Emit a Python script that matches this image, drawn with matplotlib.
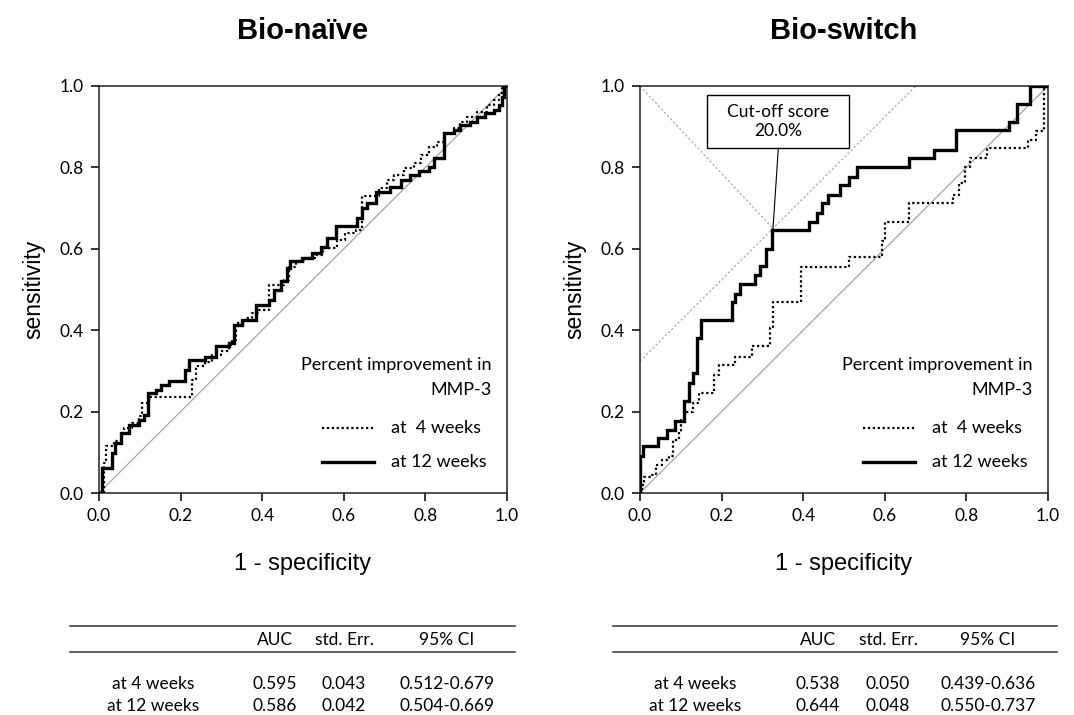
import matplotlib
matplotlib.use("Agg")
import matplotlib.pyplot as plt
from matplotlib.lines import Line2D
from matplotlib.patches import Rectangle

# ---------------- data ----------------
ticks = [0.0, 0.2, 0.4, 0.6, 0.8, 1.0]
tick_labels = ["0.0", "0.2", "0.4", "0.6", "0.8", "1.0"]

# Bio-naive, 12 weeks (solid)
naive12_fpr = [0, 0.008, 0.031, 0.04, 0.053, 0.073, 0.098, 0.11, 0.121, 0.139, 0.151, 0.171,
               0.212, 0.22, 0.261, 0.286, 0.318, 0.331, 0.351, 0.384, 0.416, 0.429, 0.445,
               0.461, 0.469, 0.498, 0.522, 0.543, 0.56, 0.58, 0.633, 0.645, 0.657, 0.678,
               0.714, 0.739, 0.763, 0.784, 0.808, 0.82, 0.845, 0.869, 0.886, 0.91, 0.927,
               0.947, 0.967, 0.98, 0.988, 0.992, 1.0]
naive12_tpr = [0, 0.061, 0.098, 0.123, 0.147, 0.168, 0.18, 0.192, 0.245, 0.254, 0.266, 0.274,
               0.303, 0.327, 0.335, 0.36, 0.368, 0.413, 0.425, 0.462, 0.475, 0.5, 0.52,
               0.552, 0.569, 0.577, 0.589, 0.605, 0.626, 0.655, 0.675, 0.7, 0.712, 0.74,
               0.753, 0.769, 0.781, 0.79, 0.802, 0.822, 0.884, 0.892, 0.904, 0.912, 0.925,
               0.933, 0.941, 0.953, 0.974, 1.0, 1.0]

# Bio-naive, 4 weeks (dotted)
naive4_fpr = [0, 0.012, 0.016, 0.037, 0.057, 0.061, 0.082, 0.098, 0.106, 0.122, 0.229, 0.237,
              0.261, 0.278, 0.298, 0.318, 0.327, 0.335, 0.359, 0.376, 0.392, 0.416, 0.453,
              0.465, 0.482, 0.506, 0.53, 0.548, 0.584, 0.604, 0.629, 0.645, 0.686, 0.706,
              0.722, 0.747, 0.771, 0.788, 0.808, 0.829, 0.845, 0.869, 0.886, 0.902, 0.927,
              0.951, 0.967, 0.98, 0.988, 0.996, 1.0]
naive4_tpr = [0, 0.074, 0.115, 0.127, 0.147, 0.16, 0.172, 0.188, 0.221, 0.237, 0.278, 0.311,
              0.323, 0.34, 0.348, 0.364, 0.376, 0.417, 0.43, 0.442, 0.45, 0.511, 0.524,
              0.556, 0.569, 0.577, 0.585, 0.601, 0.622, 0.638, 0.646, 0.73, 0.749, 0.769,
              0.781, 0.798, 0.81, 0.83, 0.851, 0.863, 0.884, 0.896, 0.912, 0.925, 0.937,
              0.953, 0.966, 0.978, 0.994, 1.0, 1.0]

# Bio-switch, 12 weeks (solid)
switch12_fpr = [0, 0.0, 0.008, 0.044, 0.065, 0.085, 0.109, 0.119, 0.129, 0.139, 0.149, 0.226,
                0.234, 0.244, 0.282, 0.294, 0.31, 0.323, 0.413, 0.435, 0.447, 0.46, 0.49,
                0.512, 0.533, 0.66, 0.72, 0.774, 0.904, 0.925, 0.955, 1.0]
switch12_tpr = [0, 0.092, 0.115, 0.135, 0.155, 0.176, 0.225, 0.27, 0.295, 0.38, 0.425, 0.47,
                0.49, 0.514, 0.536, 0.558, 0.6, 0.646, 0.667, 0.687, 0.712, 0.732, 0.757,
                0.777, 0.8, 0.822, 0.843, 0.892, 0.912, 0.957, 1.0, 1.0]

# Bio-switch, 4 weeks (dotted)
switch4_fpr = [0, 0.004, 0.01, 0.03, 0.04, 0.055, 0.07, 0.08, 0.095, 0.1, 0.11, 0.13, 0.145,
               0.181, 0.194, 0.234, 0.274, 0.319, 0.327, 0.395, 0.513, 0.594, 0.6, 0.66,
               0.766, 0.782, 0.796, 0.81, 0.851, 0.95, 0.97, 0.99, 1.0]
switch4_tpr = [0, 0.02, 0.04, 0.045, 0.07, 0.08, 0.09, 0.13, 0.15, 0.18, 0.2, 0.22, 0.245,
               0.29, 0.315, 0.335, 0.36, 0.405, 0.47, 0.556, 0.58, 0.62, 0.667, 0.712,
               0.732, 0.761, 0.8, 0.822, 0.847, 0.867, 0.89, 1.0, 1.0]

cutoff_point = (0.326, 0.65)
cutoff_label = "Cut-off score\n20.0%"

titles = ["Bio-naïve", "Bio-switch"]
legend_title = ["Percent improvement in", "MMP-3"]
series_labels = ["at  4 weeks", "at 12 weeks"]

table_header = ["AUC", "std. Err.", "95% CI"]
table_rows = ["at 4 weeks", "at 12 weeks"]
naive_auc = ["0.595", "0.586"]
naive_se = ["0.043", "0.042"]
naive_ci = ["0.512-0.679", "0.504-0.669"]
switch_auc = ["0.538", "0.644"]
switch_se = ["0.050", "0.048"]
switch_ci = ["0.439-0.636", "0.550-0.737"]

# ---------------- figure ----------------
W, H = 1074, 715
fig = plt.figure(figsize=(W / 100, H / 100), dpi=100)
fig.patch.set_facecolor("white")

CAL = ["Lato", "DejaVu Sans"]
ARI = ["Liberation Sans", "DejaVu Sans"]


def px_rect(x0, x1, ytop, ybot):
    return [x0 / W, 1 - ybot / H, (x1 - x0) / W, (ybot - ytop) / H]


axL = fig.add_axes(px_rect(99, 507, 86, 493))
axR = fig.add_axes(px_rect(640, 1048, 86, 493))

datasets = [
    (axL, naive4_fpr, naive4_tpr, naive12_fpr, naive12_tpr),
    (axR, switch4_fpr, switch4_tpr, switch12_fpr, switch12_tpr),
]

for i, (ax, f4, t4, f12, t12) in enumerate(datasets):
    ax.set_xlim(0, 1)
    ax.set_ylim(0, 1)
    ax.plot([0, 1], [0, 1], color="#9a9a9a", lw=0.8, zorder=1)
    ax.step(f4, t4, where="post", color="black", lw=1.6, linestyle=(0, (1, 1.2)), zorder=3)
    ax.step(f12, t12, where="post", color="black", lw=2.4, zorder=4, solid_joinstyle="miter")
    ax.set_xticks(ticks)
    ax.set_yticks(ticks)
    ax.set_xticklabels(tick_labels, fontfamily=CAL, fontsize=12.5)
    ax.set_yticklabels(tick_labels, fontfamily=CAL, fontsize=12.5)
    ax.tick_params(direction="out", length=6, width=1.1, pad=5, colors="black")
    for s in ax.spines.values():
        s.set_linewidth(1.1)
        s.set_color("#222222")
    ax.set_xlabel("1 - specificity", fontfamily=ARI, fontsize=17, labelpad=21)
    ax.set_ylabel("sensitivity", fontfamily=ARI, fontsize=16.5, labelpad=10)
    ax.set_title(titles[i], fontfamily=ARI, fontsize=21, fontweight="bold", pad=34)

    # legend-like annotation
    fs = 13
    ax.text(0.962, 0.315, legend_title[0], fontfamily=CAL, fontsize=fs, ha="right", va="center")
    ax.text(0.962, 0.254, legend_title[1], fontfamily=CAL, fontsize=fs, ha="right", va="center")
    ax.plot([0.547, 0.673], [0.16, 0.16], color="black", lw=1.6, linestyle=(0, (1, 1.2)))
    ax.text(0.715, 0.16, series_labels[0], fontfamily=CAL, fontsize=fs, ha="left", va="center")
    ax.plot([0.547, 0.673], [0.075, 0.075], color="black", lw=2.4)
    ax.text(0.715, 0.075, series_labels[1], fontfamily=CAL, fontsize=fs, ha="left", va="center")

# cut-off guide lines on the Bio-switch panel
cx, cy = cutoff_point
off = cy - cx
axR.plot([0, 1 - off], [off, 1], color="#a0a0a0", lw=0.8, linestyle=(0, (2, 2)), zorder=2)
axR.plot([0, cx], [1, cy], color="#a0a0a0", lw=0.8, linestyle=(0, (2, 2)), zorder=2)
box_x0, box_x1, box_y0, box_y1 = 0.163, 0.513, 0.847, 0.978
axR.add_patch(Rectangle((box_x0, box_y0), box_x1 - box_x0, box_y1 - box_y0,
                        facecolor="white", edgecolor="black", lw=1.0, zorder=5))
axR.text((box_x0 + box_x1) / 2, (box_y0 + box_y1) / 2, cutoff_label, fontfamily=CAL,
         fontsize=12.5, ha="center", va="center", linespacing=1.25, zorder=6)
axR.plot([0.339, cx], [box_y0, cy], color="black", lw=0.8, zorder=5)

# ---------------- tables ----------------
TFS = 12.5


def table(x0, x1, col_x, row_x, aucs, ses, cis):
    for ypx in (626, 652):
        fig.add_artist(Line2D([x0 / W, x1 / W], [1 - ypx / H, 1 - ypx / H],
                              color="#333333", lw=1.1))
    hy = 1 - 640 / H
    for cxp, txt in zip(col_x, table_header):
        fig.text(cxp / W, hy, txt, fontfamily=CAL, fontsize=TFS, ha="center", va="center")
    for r, ypx in enumerate((684, 706)):
        yy = 1 - ypx / H
        fig.text(row_x / W, yy, table_rows[r], fontfamily=CAL, fontsize=TFS, ha="center", va="center")
        for cxp, txt in zip(col_x, (aucs[r], ses[r], cis[r])):
            fig.text(cxp / W, yy, txt, fontfamily=CAL, fontsize=TFS, ha="center", va="center")


table(70, 515, (275, 344, 447), 153, naive_auc, naive_se, naive_ci)
table(613, 1057, (818, 888, 988), 695, switch_auc, switch_se, switch_ci)

fig.savefig("out.png", dpi=100, facecolor="white")
